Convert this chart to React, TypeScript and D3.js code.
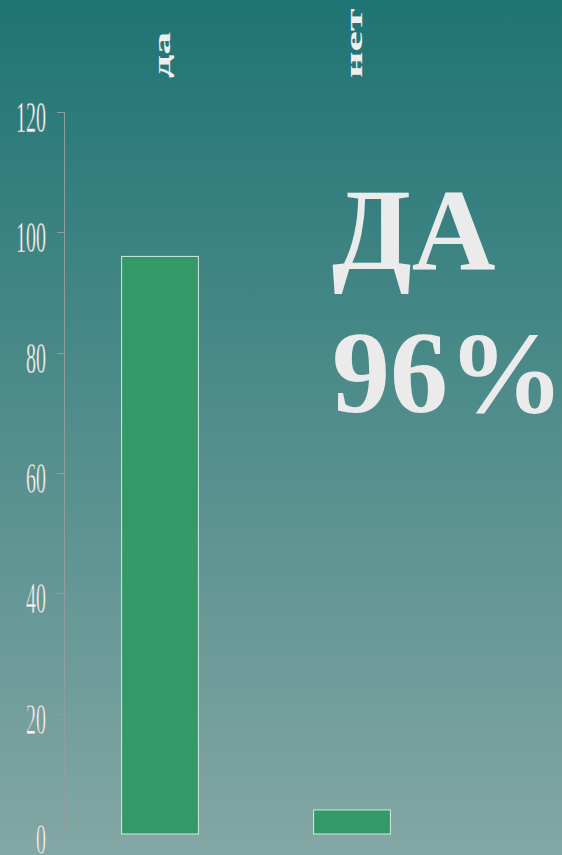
import React from "react";
import * as d3 from "d3";

const categories: string[] = ["да", "нет"];
const values: number[] = [96, 4];
const yTicks: number[] = [0, 20, 40, 60, 80, 100, 120];
const bigLine1 = "ДА";
const bigLine2 = "96%";

const W = 562;
const H = 855;

export default function App() {
  const x = d3.scaleBand<string>().domain(categories).range([64, 448]).paddingInner(0.6).paddingOuter(0.3);
  const y = d3.scaleLinear().domain([0, 120]).range([834, 112]);
  const serif = "'Liberation Serif', 'DejaVu Serif', serif";
  return (
    <svg width={W} height={H} style={{ position: "absolute", left: 0, top: 0 }}>
      <defs>
        <linearGradient id="bg" x1="0" y1="0" x2="0" y2="1">
          <stop offset="0" stopColor="#1f7474" />
          <stop offset="1" stopColor="#83a7a4" />
        </linearGradient>
      </defs>
      <rect x={0} y={0} width={W} height={H} fill="url(#bg)" />
      <line x1={64.5} x2={64.5} y1={y(120)} y2={y(0)} stroke="#8f9d9c" strokeWidth={1} />
      {yTicks.map((t) => (
        <g key={t}>
          <line x1={57} x2={64.5} y1={Math.round(y(t)) + 0.5} y2={Math.round(y(t)) + 0.5} stroke="#8f9d9c" strokeWidth={1} />
          <text
            transform={`translate(46, ${y(t) + 20}) scale(1, 2.2)`}
            textAnchor="end"
            fontFamily={serif}
            fontSize={20}
            fill="#f6f6f6"
            stroke="#6f8080"
            strokeWidth={0.25}
          >
            {t}
          </text>
        </g>
      ))}
      {categories.map((c, i) => (
        <g key={c}>
          <rect
            x={x(c)!}
            y={y(values[i])}
            width={x.bandwidth()}
            height={y(0) - y(values[i])}
            fill="#339966"
            stroke="#d8e6e0"
            strokeWidth={1}
          />
          <text
            transform={`translate(${x(c)! + x.bandwidth() / 2 + 10}, 78) scale(1, 2) rotate(-90)`}
            textAnchor="start"
            fontFamily={serif}
            fontWeight="bold"
            fontSize={23}
            fill="#eeeeee"
          >
            {c}
          </text>
        </g>
      ))}
      <text x={332} y={269} fontFamily={serif} fontWeight="bold" fontSize={116} fill="#ebebeb">
        {bigLine1}
      </text>
      <text x={332} y={412} fontFamily={serif} fontWeight="bold" fontSize={116} fill="#ebebeb">
        {bigLine2}
      </text>
    </svg>
  );
}
